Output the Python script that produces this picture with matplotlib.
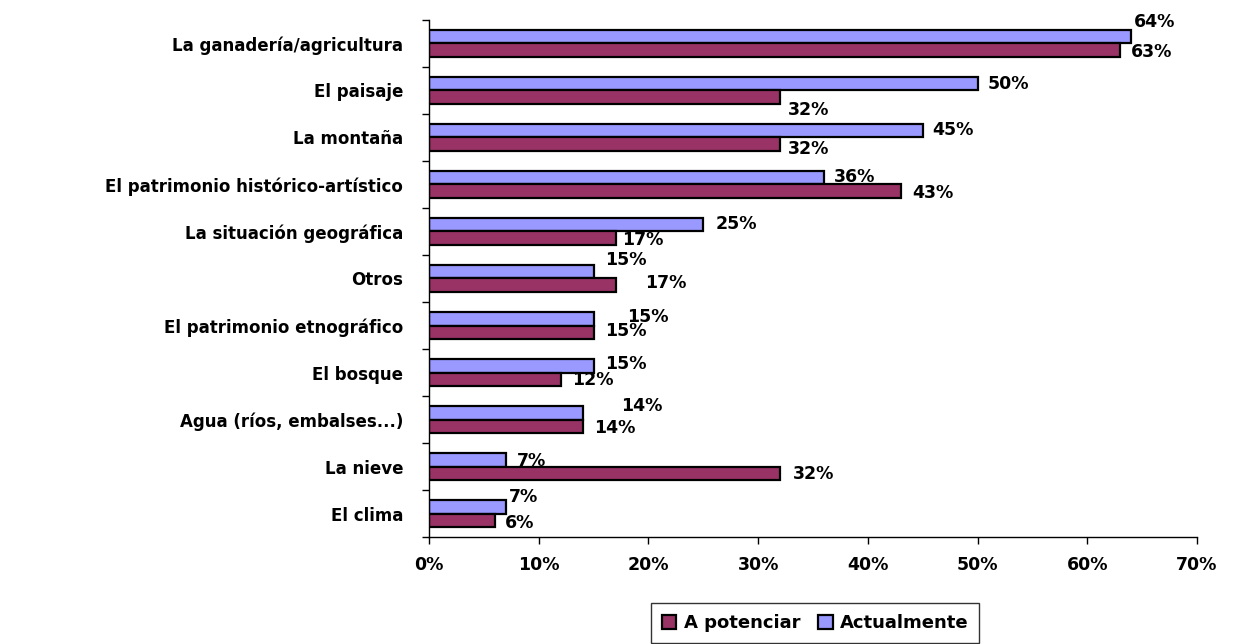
import numpy as np
import matplotlib.pyplot as plt

categorias = ["La ganadería/agricultura", "El paisaje", "La montaña",
              "El patrimonio histórico-artístico", "La situación geográfica",
              "Otros", "El patrimonio etnográfico", "El bosque",
              "Agua (ríos, embalses...)", "La nieve", "El clima"]
actualmente = [64, 50, 45, 36, 25, 15, 15, 15, 14, 7, 7]
a_potenciar = [63, 32, 32, 43, 17, 17, 15, 12, 14, 32, 6]
xticks = [0, 10, 20, 30, 40, 50, 60, 70]

# label nudges (px) as placed in the original chart
act_dx = [3, 10, 10, 10, 12, 11, 33, 11, 38, 11, 3]
act_dy = [-17, -2, -3, -3, -3, -14, -4, -4, -9, -1, -12]
pot_dx = [11, 8, 8, 11, 7, 30, 11, 11, 11, 13, 10]
pot_dy = [0, 11, 3, 0, 0, -4, -3, -1, 0, -1, 1]

plt.rcParams['font.family'] = ['DejaVu Sans']
plt.rcParams['font.weight'] = 'bold'

fig = plt.figure(figsize=(12.37, 6.44), dpi=100)
ax = fig.add_axes([0.3468, 0.1661, 0.6209, 0.8029])

y = np.arange(len(categorias))
h = 0.28
ax.barh(y - h/2, actualmente, height=h, color='#9999FF', edgecolor='black',
        linewidth=1.6, label='Actualmente')
ax.barh(y + h/2, a_potenciar, height=h, color='#993366', edgecolor='black',
        linewidth=1.6, label='A potenciar')

px = 0.72
for yi, v, dx, dy in zip(y, actualmente, act_dx, act_dy):
    ax.annotate(f"{v}%", (v, yi - h/2), xytext=(dx*px, -dy*px), textcoords='offset points',
                ha='left', va='center_baseline', fontsize=12.5, fontweight='bold')
for yi, v, dx, dy in zip(y, a_potenciar, pot_dx, pot_dy):
    ax.annotate(f"{v}%", (v, yi + h/2), xytext=(dx*px, -dy*px), textcoords='offset points',
                ha='left', va='center_baseline', fontsize=12.5, fontweight='bold')

ax.set_xlim(0, 70)
ax.set_ylim(len(categorias) - 0.5, -0.5)
ax.set_xticks(xticks)
ax.set_xticklabels([f"{t}%" for t in xticks], fontsize=12.5, fontweight='bold')
ax.tick_params(axis='x', length=5, width=1, pad=9)

ax.set_yticks(y)
ax.set_yticklabels(categorias, fontsize=12, fontweight='bold')
ax.tick_params(axis='y', which='major', length=0, pad=18.5)
ax.set_yticks(np.arange(len(categorias) + 1) - 0.5, minor=True)
ax.tick_params(axis='y', which='minor', length=5, width=1)

ax.spines['top'].set_visible(False)
ax.spines['right'].set_visible(False)
ax.spines['left'].set_linewidth(1)
ax.spines['bottom'].set_linewidth(1)

handles, labels = ax.get_legend_handles_labels()
leg = fig.legend(handles[::-1], labels[::-1], loc='lower center',
                 bbox_to_anchor=(0.659, -0.004), ncol=2, frameon=True,
                 fancybox=False, edgecolor='black', fontsize=13,
                 handlelength=0.8, handleheight=0.8, handletextpad=0.4,
                 columnspacing=1.0, borderpad=0.6, borderaxespad=0.2)
leg.get_frame().set_linewidth(1)
for t in leg.get_texts():
    t.set_fontweight('bold')

fig.savefig('out.png', dpi=100)
